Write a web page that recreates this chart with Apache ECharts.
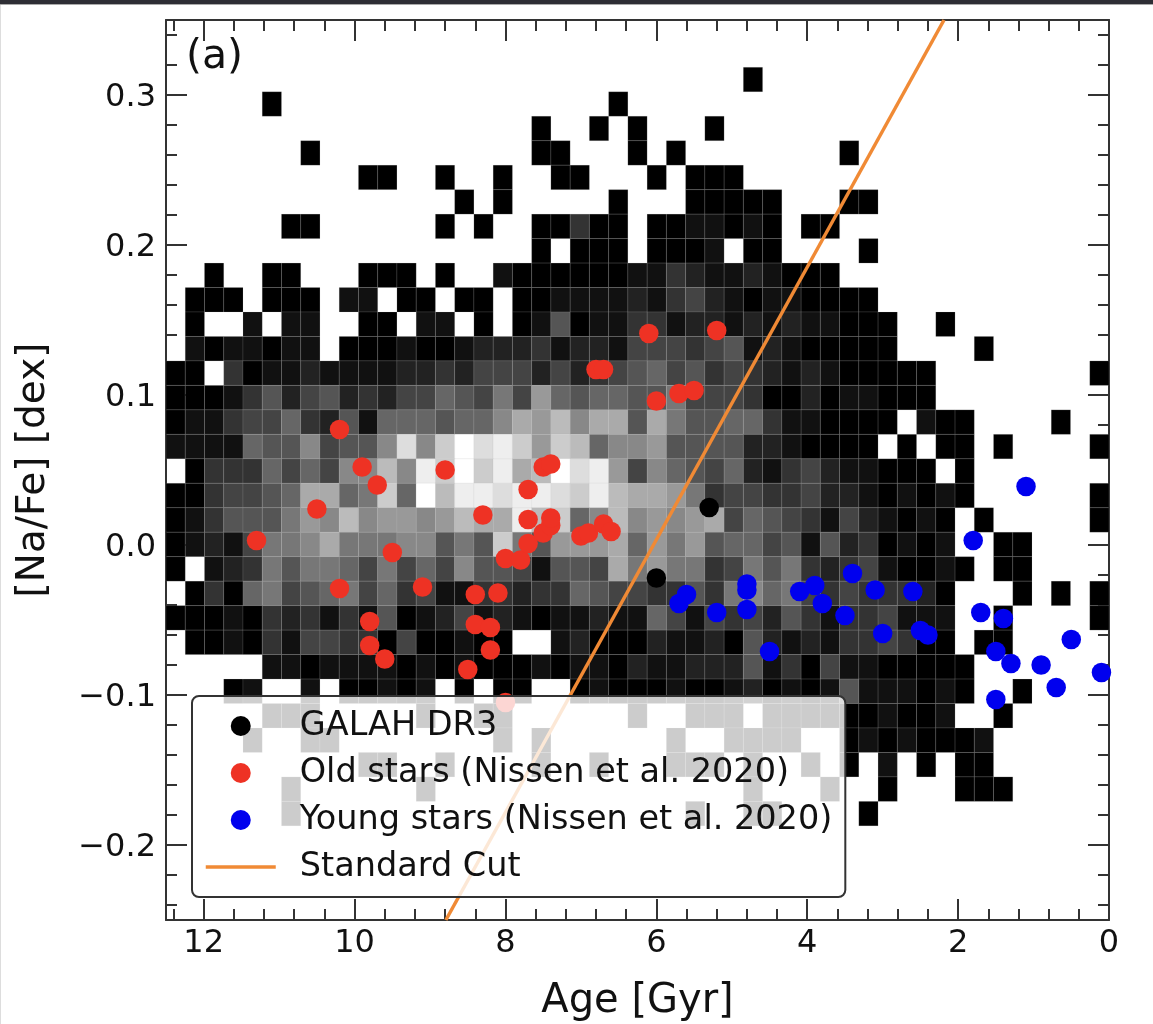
<!DOCTYPE html>
<html>
<head>
<meta charset="utf-8">
<style>html,body{margin:0;padding:0;background:#fff}#c{width:1153px;height:1024px}</style>
<script src="https://cdn.jsdelivr.net/npm/echarts@6/dist/echarts.min.js"></script>
</head>
<body>
<div id="c"></div>
<script>
// 2D histogram shade levels (hex 0-f, '.' = empty); rows top to bottom, columns old to young
const histRows = [
"..... ..... ..... ..... ..... ..... 0.... ..... ..... ....",
"..... 0.... ..... ..... ...0. ..... ..... ..... ..... ....",
"..... ..... ..... ....0 ..0.0 ...0. ..... ..... ..... ....",
"..... ..0.. ..... ....0 0...0 .0... ..... 0.... ..... ....",
"..... ..... 00..0 ..0.. 00... 0.000 ..... ..... ..... ....",
"..... ..... ..... 0.0.. ...0. ..000 00... 00... ..... ....",
"..... .00.. ....0 .0..0 0300. 00110 10.00 ..... ..... ....",
"..... ..... ..... ....0 .000. 0001. 00... .0... ..... ....",
"..0.. 00... 000.0 ..100 00001 13211 21000 ..... ..... ....",
".000. 000.1 1.00. 00.00 11112 13421 01100 00... ..... ....",
".0..1 .11.. 00.11 .0.01 50113 31221 21211 000.. 0.... ....",
".1011 011.0 00100 12223 12214 44345 12100 000.. ..0.. ....",
"00.30 11211 11223 24442 42345 64534 32121 00000 ..... ...0",
"00013 52452 32446 54749 65665 57444 30020 11000 ..... ....",
"01134 46325 16665 668a9 b8aa5 a7556 63110 000.1 00... .0..",
"11116 55845 58d8c fdec9 cb688 95555 22100 00.0. 00.0. ...0",
".0333 64648 8b8ec fceab fde94 86546 21342 11000 .0... ....",
"00344 56aa6 7c6fb eedee dceba a9734 43342 21010 10... ...0",
"01355 5798b 89989 baaeb c68b8 989a4 65431 42101 0.0.. ...0",
"01214 778a7 77885 75c75 999a6 97956 64515 23010 1..00 ....",
"0.123 75776 47464 85541 554a7 97734 75732 34100 10.00 ....",
".0306 74567 46341 13323 36544 33537 86743 43332 0...0 .0.0",
"00010 32313 15012 41210 11211 64143 42531 33411 1..0. ...0",
".0010 31443 30400 100.. 12000 21120 52121 33430 0.00. ....",
"..... 11011 11010 10001 01102 11222 51304 11000 00... ....",
"...01 ..1.0 0101. 0.00. .0100 01001 20101 51110 10..0 ....",
"..... 000.. ...0. .00.. ....0 ..000 .0000 00100 1..0. ....",
"....0 ..00. ..... ..0.0 ..... .0..0 000.. 01010 001.. ....",
"..... ..... 00..0 ....0 ..0.. .000. 0..0. 0.1.0 .00.. ....",
"..... .0... ...0. ..... ..... ..... 0...0 ..0.. .000. ....",
"..... .0... ..... ..... ..... ..0.. 00... .0... ..... ...."
];
const ageBinCount = 49;
const ageSpan = [12.5, 0];
const naTopEdge = 0.31847;
const naBinHeight = 0.016313;

const galahStars = [[5.3, 0.025], [6.0, -0.022]];
const oldStars = [[11.3,0.003],[10.2,0.077],[9.9,0.052],[9.7,0.04],[10.5,0.024],[10.2,-0.029],[9.5,-0.005],[9.1,-0.028],[8.8,0.05],[9.8,-0.051],[9.8,-0.067],[9.6,-0.076],[8.3,0.02],[8.4,-0.033],[8.4,-0.053],[8.2,-0.055],[8.1,-0.032],[8.2,-0.07],[8.5,-0.083],[8.0,-0.105],[8.0,-0.009],[7.8,-0.01],[7.7,0.001],[7.7,0.017],[7.7,0.037],[7.5,0.052],[7.4,0.054],[7.5,0.008],[7.4,0.013],[7.4,0.018],[7.0,0.006],[6.9,0.008],[6.7,0.014],[6.6,0.009],[6.8,0.117],[6.7,0.117],[6.0,0.096],[5.7,0.101],[5.5,0.103],[6.1,0.141],[5.2,0.143]];
const youngStars = [[5.7,-0.039],[5.6,-0.033],[5.2,-0.045],[4.8,-0.026],[4.8,-0.03],[4.8,-0.043],[4.5,-0.071],[4.1,-0.031],[3.9,-0.027],[3.8,-0.039],[3.5,-0.047],[3.4,-0.019],[3.1,-0.03],[3.0,-0.059],[2.6,-0.031],[2.5,-0.057],[2.4,-0.06],[1.8,0.003],[1.7,-0.045],[1.4,-0.049],[1.5,-0.071],[1.3,-0.079],[0.9,-0.08],[1.1,0.039],[0.5,-0.063],[1.5,-0.103],[0.7,-0.095],[0.1,-0.085]];
const standardCut = [[8.79,-0.25],[2.187,0.35]];

const xMajor = [12,10,8,6,4,2,0];
const xMinor = [12.4,11.6,11.2,10.8,10.4,9.6,9.2,8.8,8.4,7.6,7.2,6.8,6.4,5.6,5.2,4.8,4.4,3.6,3.2,2.8,2.4,1.6,1.2,0.8,0.4];
const yMajor = [-0.2,-0.1,0,0.1,0.2,0.3];
const yMinor = [-0.24,-0.22,-0.18,-0.16,-0.14,-0.12,-0.08,-0.06,-0.04,-0.02,0.02,0.04,0.06,0.08,0.12,0.14,0.16,0.18,0.22,0.24,0.26,0.28,0.32,0.34];

const cells = [];
const ageStep = (ageSpan[0]-ageSpan[1]) / ageBinCount;
histRows.forEach((row, k) => {
  row.replace(/ /g,'').split('').forEach((ch, c) => {
    if (ch === '.') return;
    const v = parseInt(ch,16)*17;
    cells.push([ageSpan[0]-c*ageStep, ageSpan[0]-(c+1)*ageStep, naTopEdge-k*naBinHeight, naTopEdge-(k+1)*naBinHeight, v]);
  });
});

const FONT = 'DejaVu Sans';
const INK = '#333';
function xAxisDef(pos, values, len, first){
  return {type:'value',min:0,max:12.5,inverse:true,position:pos,splitLine:{show:false},
    axisLine:{show:first,onZero:false,lineStyle:{color:INK,width:2}},
    axisTick:{show:true,inside:true,length:len,customValues:values,lineStyle:{color:INK,width:2}},
    minorTick:{show:false},
    axisLabel: (first&&pos==='bottom') ? {show:true,customValues:xMajor,margin:8,fontFamily:FONT,fontSize:32,color:'#111',formatter:v=>String(v)} : {show:false},
    name:(first&&pos==='bottom')?'Age [Gyr]':'',nameLocation:'middle',nameGap:62,nameTextStyle:{fontFamily:FONT,fontSize:40,color:'#111'}};
}
function yAxisDef(pos, values, len, first){
  return {type:'value',min:-0.25,max:0.35,position:pos,splitLine:{show:false},
    axisLine:{show:first,onZero:false,lineStyle:{color:INK,width:2}},
    axisTick:{show:true,inside:true,length:len,customValues:values,lineStyle:{color:INK,width:2}},
    minorTick:{show:false},
    axisLabel:(first&&pos==='left')?{show:true,customValues:yMajor,margin:10,verticalAlign:'top',lineHeight:6,fontFamily:FONT,fontSize:32,color:'#111',formatter:v=>v.toFixed(1).replace('-','\u2212')}:{show:false},
    name:(first&&pos==='left')?'[Na/Fe] [dex]':'',nameLocation:'middle',nameGap:113,nameTextStyle:{fontFamily:FONT,fontSize:39,color:'#111'}};
}

const chart = echarts.init(document.getElementById('c'), null, {renderer:'canvas'});
chart.setOption({
  animation:false,
  backgroundColor:'#fff',
  grid:{left:166,top:20,width:943,height:900,containLabel:false,outerBoundsMode:'none'},
  xAxis:[xAxisDef('bottom',xMajor,21,true),xAxisDef('bottom',xMinor,11,false),xAxisDef('top',xMajor,21,true),xAxisDef('top',xMinor,11,false)],
  yAxis:[yAxisDef('left',yMajor,21,true),yAxisDef('left',yMinor,11,false),yAxisDef('right',yMajor,21,true),yAxisDef('right',yMinor,11,false)],
  legend:{
    orient:'vertical',left:192,top:696,z:20,padding:[13,13,13,12],itemGap:13,itemWidth:70,itemHeight:20,
    backgroundColor:'rgba(255,255,255,0.8)',borderColor:'#333',borderWidth:2,borderRadius:7,
    textStyle:{fontFamily:FONT,fontSize:33.5,color:'#111',lineHeight:33,padding:[0,0,0,19]},
    data:['GALAH DR3','Old stars (Nissen et al. 2020)','Young stars (Nissen et al. 2020)',{name:'Standard Cut',itemStyle:{opacity:0},lineStyle:{color:'#f08a35',width:3.5}}]
  },
  graphic:[
    {type:'rect',silent:true,z:100,shape:{x:0,y:0,width:1153,height:4},style:{fill:'#2e2e35'}},
    {type:'rect',silent:true,z:100,shape:{x:0,y:4,width:1153,height:1},style:{fill:'#aaa'}},
    {type:'rect',silent:true,z:100,shape:{x:0,y:5,width:1,height:1019},style:{fill:'#ddd'}},
    {type:'text',silent:true,z:30,style:{x:186,y:37,text:'(a)',fontFamily:FONT,fontSize:41,fill:'#111'}}
  ],
  series:[
    {type:'custom',name:'hist',z:1,silent:true,encode:{x:[0,1],y:[2,3]},data:cells,
      renderItem(params,api){
        const a=api.coord([api.value(0),api.value(2)]), b=api.coord([api.value(1),api.value(3)]);
        const g=api.value(4);
        return {type:'rect',shape:{x:a[0],y:a[1],width:b[0]-a[0],height:b[1]-a[1]},
          style:{fill:`rgb(${g},${g},${g})`,stroke:'rgba(190,190,190,0.25)',lineWidth:0.6}};
      }},
    {type:'scatter',name:'GALAH DR3',z:3,data:galahStars,symbol:'circle',symbolSize:19.5,symbolKeepAspect:true,itemStyle:{color:'#000',opacity:1}},
    {type:'scatter',name:'Old stars (Nissen et al. 2020)',z:4,data:oldStars,symbol:'circle',symbolSize:19.5,symbolKeepAspect:true,itemStyle:{color:'#ee3224',opacity:1}},
    {type:'scatter',name:'Young stars (Nissen et al. 2020)',z:5,data:youngStars,symbol:'circle',symbolSize:19.5,symbolKeepAspect:true,itemStyle:{color:'#0000ee',opacity:1}},
    {type:'line',name:'Standard Cut',z:6,data:standardCut,showSymbol:false,symbol:'none',lineStyle:{color:'#f08a35',width:3.5},itemStyle:{color:'#f08a35'}}
  ]
});
</script>
</body>
</html>
